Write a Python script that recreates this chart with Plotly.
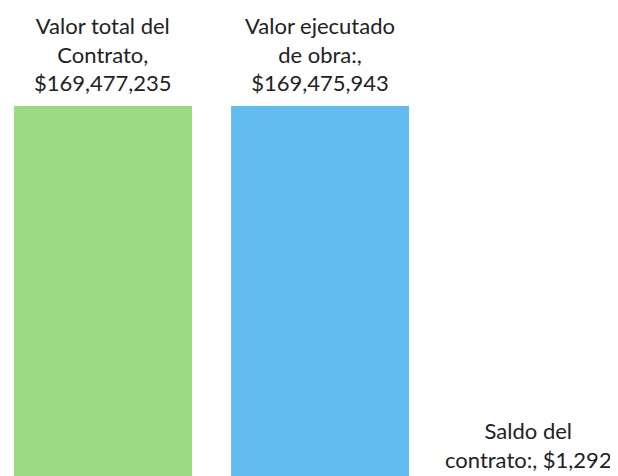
import plotly.graph_objects as go

categories = ["Valor total del Contrato", "Valor ejecutado de obra", "Saldo del contrato"]
values = [169477235, 169475943, 1292]
value_labels = ["$169,477,235", "$169,475,943", "$1,292"]
bar_colors = ["#9bda82", "#63bcf0", "#e8a060"]

label_texts = [
    "Valor total del<br>Contrato,<br>" + value_labels[0],
    "Valor ejecutado<br>de obra:,<br>" + value_labels[1],
    "Saldo del<br>contrato:, " + value_labels[2],
]
label_xshift = [0, 0, -9]

fig = go.Figure()
fig.add_trace(go.Bar(
    x=list(range(len(values))),
    y=values,
    marker=dict(color=bar_colors, line=dict(width=0)),
    hoverinfo="skip",
))

for i, (v, t) in enumerate(zip(values, label_texts)):
    fig.add_annotation(
        x=i, y=v, text=t, showarrow=False, yanchor="bottom", xanchor="center",
        align="center", xshift=label_xshift[i], yshift=8,
        font=dict(family="Lato, Open Sans, sans-serif", size=22, color="#222222"),
    )

axis_off = dict(visible=False, showline=False, zeroline=False, showgrid=False,
                showticklabels=False, fixedrange=True)

fig.update_layout(
    width=610, height=476,
    margin=dict(l=0, r=0, t=0, b=0),
    paper_bgcolor="white", plot_bgcolor="white",
    bargap=0.18,
    showlegend=False,
    xaxis=dict(range=[-0.438, 2.373], **axis_off),
    yaxis=dict(range=[-0.45e6, 213.5e6], **axis_off),
)

fig.write_html("out.html")
